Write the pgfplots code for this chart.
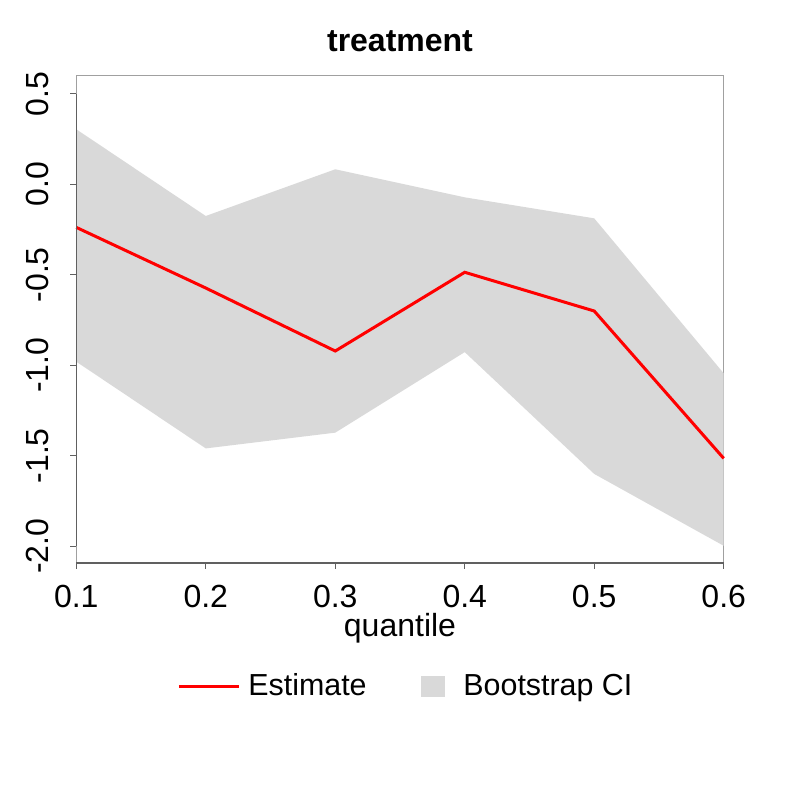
\documentclass[border=0pt]{standalone}
\usepackage{pgfplots}
\pgfplotsset{compat=1.18}
\usepackage{fontspec}
\setmainfont{Liberation Sans}
\definecolor{cigray}{HTML}{D9D9D9}
\definecolor{boxgray}{HTML}{A0A0A0}
\definecolor{axisdark}{HTML}{606060}
\begin{document}
\begin{tikzpicture}
\path[use as bounding box] (0bp,0bp) rectangle (400bp,400bp);
\begin{axis}[
  at={(38.15bp,118.5bp)}, anchor=south west,
  width=323.7bp, height=243.65bp, scale only axis,
  xmin=0.1, xmax=0.6, ymin=-2.092, ymax=0.600,
  clip=false,
  axis line style={draw=boxgray, line width=0.6bp},
  tick align=outside, major tick length=3bp,
  tick style={draw=axisdark, line width=0.6bp},
  xtick={0.1,0.2,0.3,0.4,0.5,0.6},
  xticklabels={0.1,0.2,0.3,0.4,0.5,0.6},
  ytick={-2,-1.5,-1,-0.5,0,0.5},
  yticklabels={-2.0,-1.5,-1.0,-0.5,0.0,0.5},
  xtick pos=bottom, ytick pos=left,
  ticklabel style={font=\fontsize{16bp}{19bp}\selectfont, inner sep=0pt},
  xticklabel style={anchor=base, yshift=-19.5bp},
  yticklabel style={xshift=-11bp, rotate=90, anchor=base},
  title={treatment},
  title style={at={(0.5,1)}, anchor=base, yshift=6.3bp, inner sep=0pt, font=\bfseries\fontsize{16bp}{19bp}\selectfont},
  xlabel={quantile},
  xlabel style={at={(axis description cs:0.5,0)}, anchor=base, yshift=-36.8bp, inner sep=0pt, font=\fontsize{16bp}{19bp}\selectfont},
  legend columns=2,
  legend style={at={(axis description cs:0.1555,-0.2522)}, anchor=west, draw=none, fill=none, inner sep=0pt,
    font=\fontsize{15.2bp}{18bp}\selectfont,
    nodes={inner sep=0pt, anchor=base west},
    /tikz/every odd column/.append style={column sep=4bp},
    /tikz/every even column/.append style={column sep=27bp}},
]
\addplot[fill=cigray, draw=none, forget plot] coordinates {
  (0.1,0.304) (0.2,-0.175) (0.3,0.083) (0.4,-0.072) (0.5,-0.188) (0.6,-1.044)
  (0.6,-1.997) (0.5,-1.600) (0.4,-0.927) (0.3,-1.372) (0.2,-1.459) (0.1,-0.980)
} -- cycle;
\addplot[red, line width=1.5bp, no marks,
  legend image code/.code={\draw[red, line width=1.5bp] (0bp,4.5bp) -- (30bp,4.5bp);}]
  coordinates {
  (0.1,-0.238) (0.2,-0.573) (0.3,-0.921) (0.4,-0.486) (0.5,-0.700) (0.6,-1.514)
};
\addlegendentry{Estimate}
\addlegendimage{legend image code/.code={\fill[cigray] (0bp,-0.5bp) rectangle (11.5bp,9.5bp); \path (17bp,0bp);}}
\addlegendentry{Bootstrap CI}
\addplot[axisdark, line width=0.6bp, no marks, forget plot] coordinates {(0.1,-2) (0.1,0.5)};
\addplot[axisdark, line width=0.6bp, no marks, forget plot] coordinates {(0.1,-2.092) (0.6,-2.092)};
\end{axis}
\end{tikzpicture}
\end{document}
